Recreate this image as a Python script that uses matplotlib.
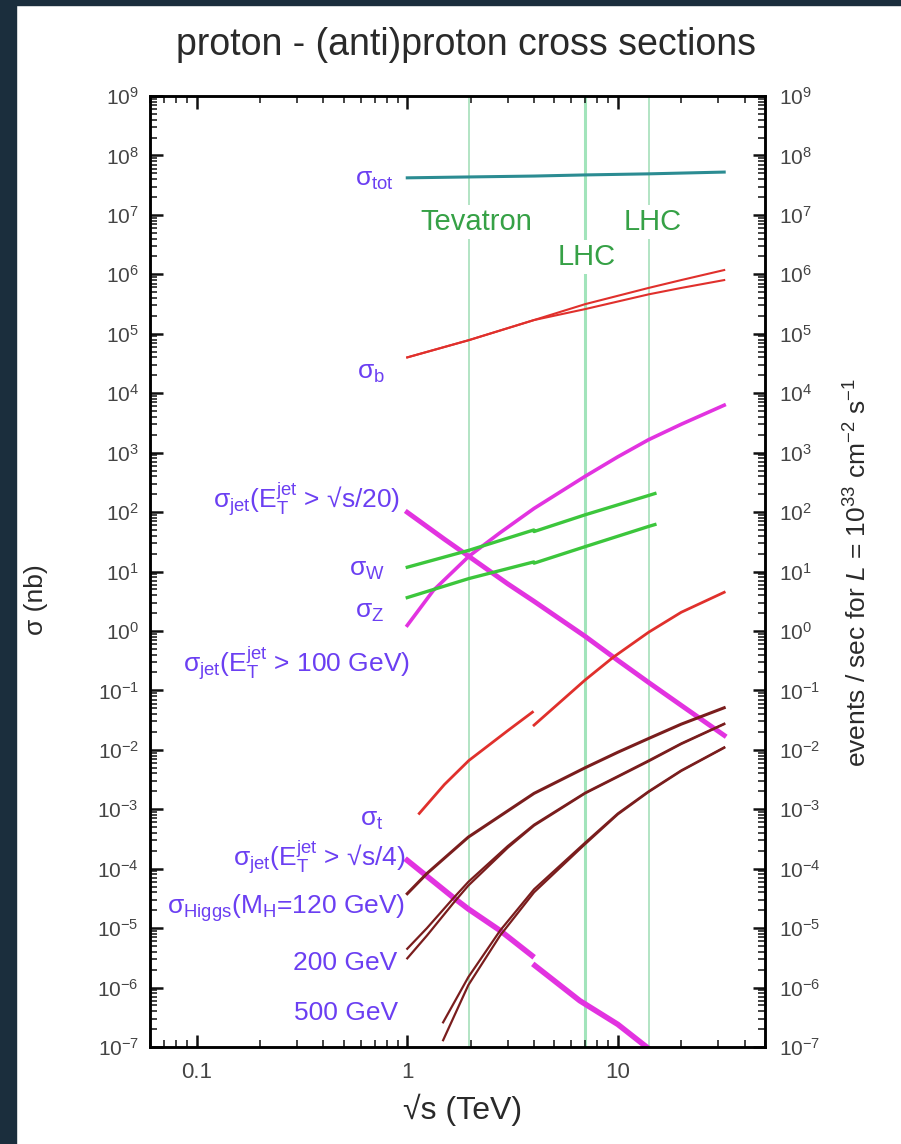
import numpy as np
import matplotlib
matplotlib.use("Agg")
import matplotlib.pyplot as plt
from matplotlib.ticker import LogLocator, NullFormatter, FixedLocator, FixedFormatter
from matplotlib.patches import Rectangle

plt.rcParams['font.family'] = ['Liberation Sans', 'DejaVu Sans']
plt.rcParams['mathtext.fontset'] = 'custom'
plt.rcParams['mathtext.rm'] = 'Liberation Sans'
plt.rcParams['mathtext.it'] = 'Liberation Sans:italic'
plt.rcParams['mathtext.sf'] = 'Liberation Sans'

# sqrt(s) in TeV, cross sections in nb
s_tot = [1, 2, 4, 7, 14, 32]
sig_tot = [4.2e7, 4.35e7, 4.5e7, 4.7e7, 4.9e7, 5.25e7]

s_b = [1, 1.96, 4, 7, 14, 20, 32]
sig_b_hi = [4.0e4, 7.8e4, 1.7e5, 3.15e5, 5.9e5, 8.0e5, 1.18e6]
sig_b_lo = [4.0e4, 7.8e4, 1.7e5, 2.6e5, 4.6e5, 5.9e5, 8.0e5]

s_j20 = [1, 1.5, 1.96, 3, 4, 7, 10, 14, 20, 32]
sig_j20 = [99, 35, 18, 6.2, 3.15, 0.81, 0.32, 0.136, 0.056, 0.0175]

s_j100 = [1, 1.33, 1.96, 2.76, 4, 7, 10, 14, 20, 32]
sig_j100 = [1.24, 4.8, 18, 45, 115, 400, 850, 1650, 3000, 6280]

s_wz = [1, 1.96, 3.99, 4.0, 7, 14, 15]
sig_w = [11.8, 22.7, 50, 47, 90, 190, 205]
sig_z = [3.64, 7.6, 14.5, 13.8, 26.2, 57.3, 61.6]

s_t1 = [1.14, 1.5, 1.96, 3, 3.93]
sig_t1 = [8.5e-4, 2.6e-3, 6.6e-3, 0.021, 0.043]
s_t2 = [4.0, 7, 9.5, 14, 20, 32]
sig_t2 = [0.026, 0.15, 0.36, 0.95, 2.06, 4.47]

s_j4a = [1, 1.65, 1.95, 2.76, 3.91]
sig_j4a = [1.38e-4, 3.3e-5, 2.1e-5, 9.1e-6, 3.45e-6]
s_j4b = [4.04, 6.6, 10, 13.7, 16]
sig_j4b = [2.34e-6, 6.0e-7, 2.4e-7, 1.0e-7, 6.5e-8]

s_h120 = [1, 1.24, 1.95, 4, 7, 10, 14, 20, 32]
sig_h120 = [3.8e-5, 8.3e-5, 3.4e-4, 1.85e-3, 5.0e-3, 9.1e-3, 0.0155, 0.027, 0.051]

s_h200 = [1, 1.24, 1.65, 1.95, 3, 4, 7, 10, 14, 20, 32]
sig_h200_hi = [4.5e-6, 1.0e-5, 3.15e-5, 6.0e-5, 2.4e-4, 5.5e-4, 1.9e-3, 3.6e-3, 6.6e-3, 0.0128, 0.0275]
sig_h200_lo = [3.1e-6, 7.5e-6, 2.6e-5, 5.2e-5, 2.25e-4, 5.3e-4, 1.85e-3, 3.5e-3, 6.4e-3, 0.0125, 0.027]

s_h500 = [1.48, 1.95, 2.76, 4, 7, 10, 14, 20, 32]
sig_h500_hi = [2.6e-7, 1.5e-6, 9.1e-6, 4.5e-5, 2.75e-4, 8.5e-4, 2.0e-3, 4.5e-3, 0.011]
sig_h500_lo = [1.3e-7, 1.1e-6, 7.5e-6, 4.0e-5, 2.6e-4, 8.2e-4, 1.95e-3, 4.4e-3, 0.0108]

colliders = [1.96, 7, 14]
collider_names = ["Tevatron", "LHC", "LHC"]

x_ticks = [0.1, 1, 10]
x_ticklabels = ["0.1", "1", "10"]

LABEL_C = '#6b3ff2'
MAG = '#e233e0'
RED = '#e0302c'
BROWN = '#7a1d1d'
GREEN = '#3cc63c'

fig = plt.figure(figsize=(9.01, 11.44), dpi=100)
fig.patch.set_facecolor('white')
# dark frame of the screenshot
fig.patches.append(Rectangle((0, 0), 16 / 901, 1, transform=fig.transFigure,
                             color='#1b2e3d', zorder=0))
fig.patches.append(Rectangle((0, 1 - 5 / 1144), 1, 5 / 1144, transform=fig.transFigure,
                             color='#1b2e3d', zorder=0))

ax = fig.add_axes([150 / 901, 97 / 1144, 615 / 901, 951 / 1144])
ax.set_xscale('log')
ax.set_yscale('log')
ax.set_xlim(0.06, 50)
ax.set_ylim(1e-7, 1e9)

# collider energies
for i, e in enumerate(colliders):
    ax.axvline(e, color='#a6dfba' if i != 1 else '#a2e4bb',
               lw=1.2 if i != 1 else 2.2, zorder=1)

# curves
ax.plot(s_tot, sig_tot, color='#2b8c92', lw=2.2, zorder=3)
ax.plot(s_b, sig_b_hi, color=RED, lw=1.5, zorder=3)
ax.plot(s_b, sig_b_lo, color=RED, lw=1.5, zorder=3)
ax.plot(s_j20, sig_j20, color=MAG, lw=3.5, zorder=3)
ax.plot(s_j100, sig_j100, color=MAG, lw=2.6, zorder=3)
ax.plot(s_wz, sig_w, color=GREEN, lw=2.4, zorder=3)
ax.plot(s_wz, sig_z, color=GREEN, lw=2.4, zorder=3)
ax.plot(s_t1, sig_t1, color=RED, lw=2, zorder=3)
ax.plot(s_t2, sig_t2, color=RED, lw=2, zorder=3)
ax.plot(s_j4a, sig_j4a, color=MAG, lw=4, zorder=3)
ax.plot(s_j4b, sig_j4b, color=MAG, lw=4, zorder=3)
ax.plot(s_h120, sig_h120, color=BROWN, lw=2.2, zorder=4)
ax.plot(s_h200, sig_h200_hi, color=BROWN, lw=1.6, zorder=4)
ax.plot(s_h200, sig_h200_lo, color=BROWN, lw=1.6, zorder=4)
ax.plot(s_h500, sig_h500_hi, color=BROWN, lw=1.6, zorder=4)
ax.plot(s_h500, sig_h500_lo, color=BROWN, lw=1.6, zorder=4)

# collider names
box = dict(facecolor='white', edgecolor='none', pad=2)
ax.text(2.12, 7.6e6, collider_names[0], color='#36a146', fontsize=21,
        ha='center', va='center', bbox=box, zorder=5)
ax.text(7.13, 1.95e6, collider_names[1], color='#36a146', fontsize=21,
        ha='center', va='center', bbox=box, zorder=5)
ax.text(14.6, 7.6e6, collider_names[2], color='#36a146', fontsize=21,
        ha='center', va='center', bbox=box, zorder=5)

# process labels
lab = dict(color=LABEL_C, fontsize=19, ha='right', va='center', zorder=5)
ax.text(0.86, 3.85e7, r'σ$_{\rm tot}$', **lab)
ax.text(0.78, 2.2e4, r'σ$_{\rm b}$', **lab)
ax.text(0.93, 158, r'σ$_{\rm jet}$(E$_{\rm T}^{\rm jet}$ > √s/20)', **lab)
ax.text(0.78, 10.5, r'σ$_{\rm W}$', **lab)
ax.text(0.78, 2.06, r'σ$_{\rm Z}$', **lab)
ax.text(1.03, 0.285, r'σ$_{\rm jet}$(E$_{\rm T}^{\rm jet}$ > 100 GeV)', **lab)
ax.text(0.77, 6.5e-4, r'σ$_{\rm t}$', **lab)
ax.text(0.98, 1.55e-4, r'σ$_{\rm jet}$(E$_{\rm T}^{\rm jet}$ > √s/4)', **lab)
ax.text(0.98, 2.14e-5, r'σ$_{\rm Higgs}$(M$_{\rm H}$=120 GeV)', **lab)
ax.text(0.9, 2.6e-6, '200 GeV', **lab)
ax.text(0.9, 3.8e-7, '500 GeV', **lab)

# axes styling
for sp in ax.spines.values():
    sp.set_linewidth(1.8)
    sp.set_zorder(6)
ax.xaxis.set_major_locator(FixedLocator(x_ticks))
ax.xaxis.set_major_formatter(FixedFormatter(x_ticklabels))
ax.xaxis.set_minor_locator(LogLocator(base=10, subs=np.arange(2, 10), numticks=50))
ax.xaxis.set_minor_formatter(NullFormatter())
ax.yaxis.set_major_locator(LogLocator(base=10, numticks=40))
ax.yaxis.set_minor_locator(LogLocator(base=10, subs=np.arange(2, 10), numticks=200))
ax.yaxis.set_minor_formatter(NullFormatter())
ax.tick_params(which='both', direction='in', top=True, right=False,
               colors='#111111', labelcolor='#444444')
ax.tick_params(which='major', length=9, width=1.8, labelsize=15)
ax.tick_params(which='minor', length=5, width=1.1)
ax.tick_params(axis='x', pad=11, labelsize=16)
ax.tick_params(axis='y', pad=8)

ax2 = ax.twinx()
ax2.set_yscale('log')
ax2.set_ylim(ax.get_ylim())
ax2.yaxis.set_major_locator(LogLocator(base=10, numticks=40))
ax2.yaxis.set_minor_locator(LogLocator(base=10, subs=np.arange(2, 10), numticks=200))
ax2.yaxis.set_minor_formatter(NullFormatter())
ax2.tick_params(which='both', direction='in', colors='#111111', labelcolor='#444444')
ax2.tick_params(which='major', length=9, width=1.8, labelsize=15, pad=10)
ax2.tick_params(which='minor', length=5, width=1.1)
for sp in ax2.spines.values():
    sp.set_linewidth(1.8)

fig.text(466 / 901, 1 - 45 / 1144, 'proton - (anti)proton cross sections',
         fontsize=27, color='#2a2a2a', ha='center', va='center')
fig.text(36 / 901, 1 - 600 / 1144, 'σ (nb)', rotation=90, fontsize=19,
         color='#2a2a2a', ha='center', va='center')
fig.text(463 / 901, 1 - 1110 / 1144, '√s (TeV)', fontsize=23,
         color='#2a2a2a', ha='center', va='center')
fig.text(858 / 901, 1 - 572 / 1144,
         r'events / sec for $\mathit{L}$ = 10$^{33}$ cm$^{-2}$ s$^{-1}$',
         rotation=90, fontsize=19, color='#2a2a2a', ha='center', va='center')

fig.savefig('out.png', dpi=100)
